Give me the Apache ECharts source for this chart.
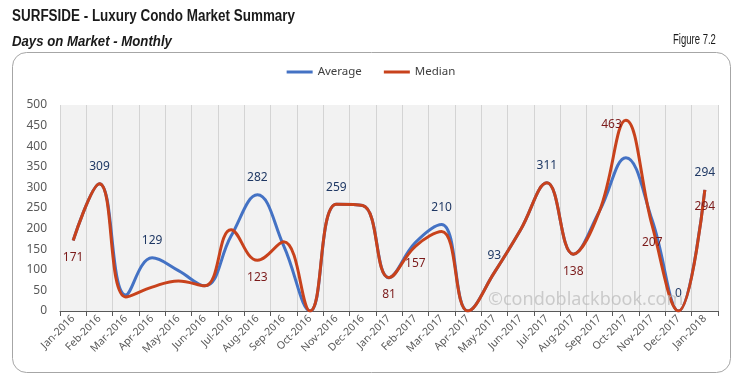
<!DOCTYPE html>
<html><head><meta charset="utf-8">
<script src="https://cdn.jsdelivr.net/npm/echarts@6/dist/echarts.min.js"></script>
<style>html,body{margin:0;padding:0;background:#fff}#c{width:742px;height:386px}</style>
</head><body><div id="c"></div>
<script>
const categories = ["Jan-2016","Feb-2016","Mar-2016","Apr-2016","May-2016","Jun-2016","Jul-2016","Aug-2016","Sep-2016","Oct-2016","Nov-2016","Dec-2016","Jan-2017","Feb-2017","Mar-2017","Apr-2017","May-2017","Jun-2017","Jul-2017","Aug-2017","Sep-2017","Oct-2017","Nov-2017","Dec-2017","Jan-2018"];
const average = [171,309,39,129,98,61,182,282,158,0,259,256,81,166,210,0,93,197,311,138,243,372,220,0,294];
const median  = [171,309,34,58,73,61,197,123,168,0,259,256,81,157,193,0,93,197,311,138,243,463,207,0,294];
const yTicks = [0,50,100,150,200,250,300,350,400,450,500];

// which points carry a value label, and where
const avgLabels = {1:'top',3:'top',7:'top',10:'top',14:'top',16:'top',18:'top',23:'top',24:'top'};
const medLabels = {0:'bottom',7:'bottom',12:'bottom',13:'bottom',19:'bottom',21:'left',22:'bottom',24:'bottom'};

function build(vals, labels, color){
  return vals.map((v,i)=>{
    const pos = labels[i];
    if(!pos) return v;
    return {value:v, label:{show:true, position:pos, distance: pos==='left'?4:11, offset: pos==='left'?[0,4]:[0,0], color:color, fontSize:12, fontFamily:'Noto Sans'}};
  });
}
const narrow = '"Liberation Sans Narrow", "Arial Narrow", "Liberation Sans", sans-serif';

const chart = echarts.init(document.getElementById('c'), null, {renderer:'canvas'});
chart.setOption({
  animation:false,
  backgroundColor:'#fff',
  graphic:[
    {type:'rect', shape:{x:12.5,y:52.5,width:718,height:320,r:14}, style:{fill:'#fff',stroke:'#a6a6a6',lineWidth:1}, z:-10},
    {type:'text', x:12, y:9, scaleX:0.84, style:{text:'SURFSIDE - Luxury Condo Market Summary', font:'bold 16px '+narrow, fill:'#1a1a1a'}},
    {type:'text', x:12, y:34, scaleX:0.88, style:{text:'Days on Market - Monthly', font:'italic bold 15px '+narrow, fill:'#1a1a1a'}},
    {type:'text', x:673, y:33, scaleX:0.68, style:{text:'Figure 7.2', font:'14px '+narrow, fill:'#1a1a1a'}},
    {type:'text', left:488, top:291, style:{text:'©condoblackbook.com', font:'18px "Noto Sans", sans-serif', fill:'rgba(185,185,185,0.7)'}, z:100}
  ],
  legend:{top:61, left:'center', itemWidth:26, itemHeight:3, itemGap:22, icon:'rect',
    textStyle:{fontSize:11.5, color:'#404040', fontFamily:'Noto Sans'}, data:['Average','Median']},
  grid:{left:60, right:24, top:105, bottom:75},
  xAxis:{type:'category', data:categories, boundaryGap:true,
    axisLine:{lineStyle:{color:'#595959'}},
    axisTick:{show:true, lineStyle:{color:'#595959'}},
    axisLabel:{rotate:45, fontSize:10.5, color:'#595959', fontFamily:'Noto Sans', interval:0, margin:6},
    splitLine:{show:true, interval:0, lineStyle:{color:'#d4d4d4'}},
    splitArea:{show:true, areaStyle:{color:['#f2f2f2','#f2f2f2']}}
  },
  yAxis:{type:'value', min:0, max:500, interval:50,
    axisLine:{show:false}, axisTick:{show:false},
    axisLabel:{fontSize:12, color:'#595959', fontFamily:'Noto Sans', margin:13},
    splitLine:{show:false}
  },
  series:[
    {name:'Average', type:'line', smooth:0.42, symbol:'circle', symbolSize:0.1, showSymbol:true, data:build(average, avgLabels, '#1f3864'),
      lineStyle:{color:'#4472c4', width:3}, itemStyle:{color:'#4472c4'}, z:2},
    {name:'Median', type:'line', smooth:0.42, symbol:'circle', symbolSize:0.1, showSymbol:true, data:build(median, medLabels, '#7b1a1a'),
      lineStyle:{color:'#c8421c', width:3}, itemStyle:{color:'#c8421c'}, z:3}
  ]
});
</script></body></html>
